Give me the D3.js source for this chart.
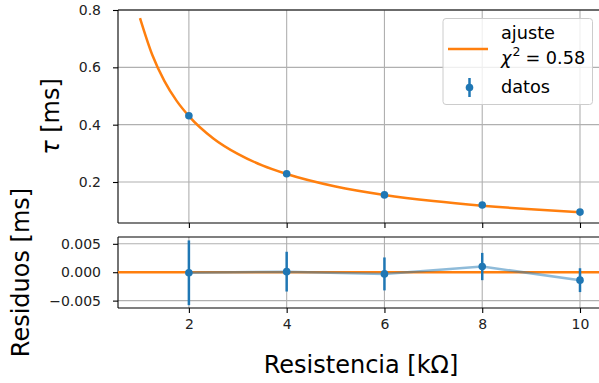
<!DOCTYPE html>
<html><head><meta charset="utf-8">
<script src="https://cdn.jsdelivr.net/npm/d3@7"></script>
<style>body{margin:0;background:#fff}svg{display:block;font-family:"DejaVu Sans",sans-serif}</style>
</head><body><svg id="c" width="599" height="383"></svg>
<script>
// ---- data ----
const resistencia = [2, 4, 6, 8, 10];
const tau = [0.431, 0.229, 0.155, 0.120, 0.095];
const tauErr = [0.0057, 0.0035, 0.0029, 0.0024, 0.0021];
const residuos = [-0.0001, 0.0001, -0.0003, 0.0010, -0.0014];
const ajusteR = [1, 1.25, 1.5, 1.75, 2, 2.5, 3, 3.5, 4, 5, 6, 7, 8, 9, 10];
const ajusteTau = [0.772, 0.644, 0.552, 0.483, 0.430, 0.352, 0.298, 0.258, 0.228, 0.1845, 0.155, 0.1337, 0.1175, 0.1048, 0.0946];
const xTicks = [2, 4, 6, 8, 10];
const yTicksTop = [0.2, 0.4, 0.6, 0.8];
const yTicksRes = [-0.005, 0.000, 0.005];
const chi2Label = "0.58";

const BLUE = "#1f77b4", ORANGE = "#ff7f0e", GRID = "#b0b0b0";
const svg = d3.select("#c");
const L = 118, R = 602;
const top1 = 10, bot1 = 223, top2 = 237, bot2 = 308;

const x = d3.scaleLinear().domain([0.55, 10.45]).range([L, R]);
const y1 = d3.scaleLinear().domain([0.057, 0.8]).range([bot1, top1]);
const y2 = d3.scaleLinear().domain([-0.0063, 0.0062]).range([bot2, top2]);

const defs = svg.append("defs");
defs.append("clipPath").attr("id","cp1").append("rect").attr("x",L).attr("y",top1).attr("width",R-L).attr("height",bot1-top1);
defs.append("clipPath").attr("id","cp2").append("rect").attr("x",L).attr("y",top2).attr("width",R-L).attr("height",bot2-top2);

function panel(yS, top, bot, yTicks, fmt) {
  const g = svg.append("g");
  g.selectAll(".gx").data(xTicks).join("line")
    .attr("x1", d=>x(d)).attr("x2", d=>x(d)).attr("y1", top).attr("y2", bot)
    .attr("stroke", GRID).attr("stroke-width", 1.1);
  g.selectAll(".gy").data(yTicks).join("line")
    .attr("x1", L).attr("x2", R).attr("y1", d=>yS(d)).attr("y2", d=>yS(d))
    .attr("stroke", GRID).attr("stroke-width", 1.1);
  const ax = d3.axisLeft(yS).tickValues(yTicks).tickFormat(fmt).tickSize(5).tickPadding(12);
  const ga = svg.append("g").attr("transform", `translate(${L},0)`).call(ax);
  ga.select(".domain").remove();
  ga.selectAll("line").attr("stroke", "#000").attr("stroke-width", 1.1);
  ga.selectAll("text").attr("font-size", 14).attr("fill", "#222").attr("font-family", "DejaVu Sans");
  const bx = d3.axisBottom(x).tickValues(xTicks).tickSize(5).tickPadding(6).tickFormat(d3.format("d"));
  const gb = svg.append("g").attr("transform", `translate(0,${bot})`).call(bx);
  gb.select(".domain").remove();
  gb.selectAll("line").attr("stroke", "#000").attr("stroke-width", 1.1);
  gb.selectAll("text").attr("font-size", 14).attr("fill", "#222").attr("font-family", "DejaVu Sans");
  svg.append("line").attr("x1",L).attr("x2",L).attr("y1",top).attr("y2",bot).attr("stroke","#000").attr("stroke-width",1.1);
  svg.append("line").attr("x1",L).attr("x2",R).attr("y1",top).attr("y2",top).attr("stroke","#000").attr("stroke-width",1.1);
  svg.append("line").attr("x1",L).attr("x2",R).attr("y1",bot).attr("y2",bot).attr("stroke","#000").attr("stroke-width",1.1);
  return gb;
}

const gb1 = panel(y1, top1, bot1, yTicksTop, d3.format(".1f"));
gb1.selectAll("text").remove();
const fmtRes = d => (d < 0 ? "\u2212" : "") + Math.abs(d).toFixed(3);
panel(y2, top2, bot2, yTicksRes, fmtRes);

// top panel marks
const p1 = svg.append("g").attr("clip-path", "url(#cp1)");
p1.append("path").datum(d3.zip(ajusteR, ajusteTau))
  .attr("d", d3.line().x(d=>x(d[0])).y(d=>y1(d[1])).curve(d3.curveMonotoneX))
  .attr("fill","none").attr("stroke",ORANGE).attr("stroke-width",2.5);
p1.selectAll(".eb").data(resistencia).join("line")
  .attr("x1",d=>x(d)).attr("x2",d=>x(d))
  .attr("y1",(d,i)=>y1(tau[i]-tauErr[i])).attr("y2",(d,i)=>y1(tau[i]+tauErr[i]))
  .attr("stroke",BLUE).attr("stroke-width",2.5);
p1.selectAll(".pt").data(resistencia).join("circle")
  .attr("cx",d=>x(d)).attr("cy",(d,i)=>y1(tau[i])).attr("r",3.8).attr("fill",BLUE);

// residual panel marks
const p2 = svg.append("g").attr("clip-path", "url(#cp2)");
p2.append("line").attr("x1",L).attr("x2",R).attr("y1",y2(0)).attr("y2",y2(0))
  .attr("stroke",ORANGE).attr("stroke-width",2.5);
p2.append("path").datum(d3.zip(resistencia, residuos))
  .attr("d", d3.line().x(d=>x(d[0])).y(d=>y2(d[1])))
  .attr("fill","none").attr("stroke",BLUE).attr("stroke-opacity",0.5).attr("stroke-width",2.5);
p2.selectAll(".eb").data(resistencia).join("line")
  .attr("x1",d=>x(d)).attr("x2",d=>x(d))
  .attr("y1",(d,i)=>y2(residuos[i]-tauErr[i])).attr("y2",(d,i)=>y2(residuos[i]+tauErr[i]))
  .attr("stroke",BLUE).attr("stroke-width",2.5);
p2.selectAll(".pt").data(resistencia).join("circle")
  .attr("cx",d=>x(d)).attr("cy",(d,i)=>y2(residuos[i])).attr("r",3.8).attr("fill",BLUE);

// axis labels
svg.append("text").attr("x", 361).attr("y", 373).attr("text-anchor","middle")
  .attr("font-size", 24).attr("fill","#000").text("Resistencia [kΩ]");
const tl = svg.append("text").attr("transform", `translate(59,${(top1+bot1)/2}) rotate(-90)`).attr("text-anchor","middle")
  .attr("font-size", 24).attr("fill","#000");
tl.append("tspan").attr("font-style","italic").text("τ");
tl.append("tspan").text(" [ms]");
svg.append("text").attr("transform", `translate(29,${(top2+bot2)/2}) rotate(-90)`).attr("text-anchor","middle")
  .attr("font-size", 24).attr("fill","#000").text("Residuos [ms]");

// legend
const lg = svg.append("g");
lg.append("rect").attr("x",443).attr("y",18.5).attr("width",149.5).attr("height",86).attr("rx",3)
  .attr("fill","#fff").attr("fill-opacity",0.8).attr("stroke","#cccccc").attr("stroke-width",1);
lg.append("line").attr("x1",448).attr("x2",488).attr("y1",49).attr("y2",49).attr("stroke",ORANGE).attr("stroke-width",2.5);
lg.append("text").attr("x",501).attr("y",39).attr("font-size",17.7).attr("fill","#000").text("ajuste");
const t2 = lg.append("text").attr("x",501).attr("y",63.5).attr("font-size",17.7).attr("fill","#000");
t2.append("tspan").attr("font-style","italic").text("χ");
t2.append("tspan").attr("font-size",12.5).attr("dy",-7.5).attr("dx",1).text("2");
t2.append("tspan").attr("dy",7.5).attr("dx",5).text("= " + chi2Label);
lg.append("line").attr("x1",469.5).attr("x2",469.5).attr("y1",78).attr("y2",97).attr("stroke",BLUE).attr("stroke-width",2.5);
lg.append("circle").attr("cx",469.5).attr("cy",87.5).attr("r",3.8).attr("fill",BLUE);
lg.append("text").attr("x",501).attr("y",92.5).attr("font-size",17.7).attr("fill","#000").text("datos");
</script></body></html>
